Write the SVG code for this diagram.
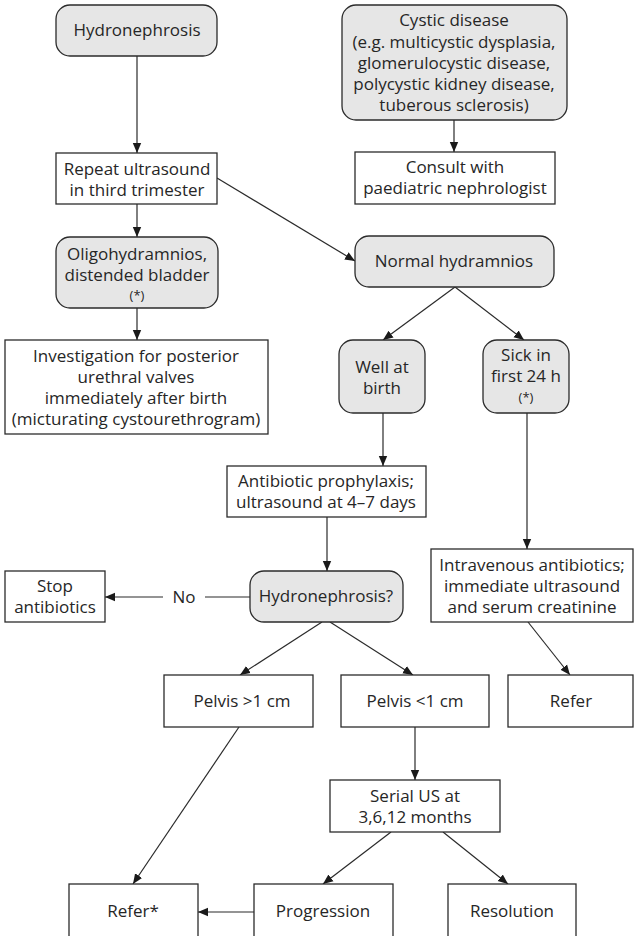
<svg xmlns="http://www.w3.org/2000/svg" width="635" height="936" viewBox="0 0 635 936">
  <style>
    .box { fill: #ffffff; stroke: #2b2b2b; stroke-width: 1.3; }
    .rnd { fill: #e6e6e6; stroke: #2b2b2b; stroke-width: 1.3; }
    text { font-family: "Open Sans", "Liberation Sans", sans-serif; font-size: 17px; fill: #262626; text-anchor: middle; }
    .small { font-size: 13px; }
    .edge { fill: none; stroke: #2b2b2b; stroke-width: 1.2; }
  </style>
  <defs>
    <marker id="arrow" viewBox="0 0 10 10" refX="10" refY="5" markerWidth="10" markerHeight="10" markerUnits="userSpaceOnUse" orient="auto">
      <path d="M0,0.8 L10,5 L0,9.2 z" fill="#1a1a1a"/>
    </marker>
  </defs>

  <rect width="635" height="936" fill="#ffffff"/>

  <!-- connectors -->
  <g id="connectors">
    <line class="edge" x1="137" y1="56" x2="137" y2="153" marker-end="url(#arrow)"/>
    <line class="edge" x1="137" y1="204" x2="137" y2="237" marker-end="url(#arrow)"/>
    <line class="edge" x1="137" y1="308" x2="137" y2="340" marker-end="url(#arrow)"/>
    <line class="edge" x1="217" y1="178" x2="355" y2="261" marker-end="url(#arrow)"/>
    <line class="edge" x1="454" y1="120" x2="454" y2="152" marker-end="url(#arrow)"/>
    <line class="edge" x1="455" y1="287" x2="383" y2="340" marker-end="url(#arrow)"/>
    <line class="edge" x1="455" y1="287" x2="524" y2="340" marker-end="url(#arrow)"/>
    <line class="edge" x1="383" y1="413" x2="383" y2="466" marker-end="url(#arrow)"/>
    <line class="edge" x1="527" y1="413" x2="527" y2="549" marker-end="url(#arrow)"/>
    <line class="edge" x1="327" y1="517" x2="327" y2="571" marker-end="url(#arrow)"/>
    <line class="edge" x1="250" y1="597" x2="205" y2="597"/>
    <line class="edge" x1="163" y1="597" x2="105" y2="597" marker-end="url(#arrow)"/>
    <text x="184" y="603">No</text>
    <line class="edge" x1="322" y1="622" x2="240" y2="675" marker-end="url(#arrow)"/>
    <line class="edge" x1="330" y1="622" x2="413" y2="675" marker-end="url(#arrow)"/>
    <line class="edge" x1="528" y1="622" x2="570" y2="675" marker-end="url(#arrow)"/>
    <line class="edge" x1="415" y1="727" x2="415" y2="780" marker-end="url(#arrow)"/>
    <line class="edge" x1="239" y1="727" x2="133" y2="884" marker-end="url(#arrow)"/>
    <line class="edge" x1="391" y1="832" x2="323" y2="884" marker-end="url(#arrow)"/>
    <line class="edge" x1="443" y1="832" x2="508" y2="884" marker-end="url(#arrow)"/>
    <line class="edge" x1="254" y1="912" x2="198" y2="912" marker-end="url(#arrow)"/>
  </g>

  <!-- nodes -->
  <g id="hydronephrosis">
    <rect class="rnd" x="56" y="5" width="161" height="51" rx="14"/>
    <text x="137" y="36">Hydronephrosis</text>
  </g>
  <g id="repeat-ultrasound">
    <rect class="box" x="56" y="153" width="161" height="51"/>
    <text x="137" y="175">Repeat ultrasound</text>
    <text x="137" y="196">in third trimester</text>
  </g>
  <g id="oligohydramnios">
    <rect class="rnd" x="56" y="237" width="162" height="71" rx="14"/>
    <text x="137" y="260">Oligohydramnios,</text>
    <text x="137" y="281">distended bladder</text>
    <text class="small" x="137" y="300">(*)</text>
  </g>
  <g id="investigation">
    <rect class="box" x="5" y="340" width="263" height="94"/>
    <text x="136" y="362">Investigation for posterior</text>
    <text x="136" y="383">urethral valves</text>
    <text x="136" y="404">immediately after birth</text>
    <text x="136" y="425">(micturating cystourethrogram)</text>
  </g>
  <g id="cystic-disease">
    <rect class="rnd" x="342" y="5" width="225" height="115" rx="14"/>
    <text x="454" y="26">Cystic disease</text>
    <text x="454" y="47.5">(e.g. multicystic dysplasia,</text>
    <text x="454" y="68.5">glomerulocystic disease,</text>
    <text x="454" y="89.5">polycystic kidney disease,</text>
    <text x="454" y="110.5">tuberous sclerosis)</text>
  </g>
  <g id="consult">
    <rect class="box" x="355" y="152" width="200" height="52"/>
    <text x="455" y="173">Consult with</text>
    <text x="455" y="194">paediatric nephrologist</text>
  </g>
  <g id="normal-hydramnios">
    <rect class="rnd" x="355" y="236" width="199" height="51" rx="14"/>
    <text x="454" y="267">Normal hydramnios</text>
  </g>
  <g id="well-at-birth">
    <rect class="rnd" x="339" y="340" width="86" height="73" rx="14"/>
    <text x="382" y="373">Well at</text>
    <text x="382" y="394">birth</text>
  </g>
  <g id="sick-first-24h">
    <rect class="rnd" x="483" y="340" width="86" height="73" rx="14"/>
    <text x="526" y="361">Sick in</text>
    <text x="526" y="382">first 24 h</text>
    <text class="small" x="526" y="402">(*)</text>
  </g>
  <g id="antibiotic-prophylaxis">
    <rect class="box" x="227" y="466" width="199" height="51"/>
    <text x="326" y="487">Antibiotic prophylaxis;</text>
    <text x="326" y="508">ultrasound at 4–7 days</text>
  </g>
  <g id="hydronephrosis-check">
    <rect class="rnd" x="250" y="571" width="153" height="51" rx="14"/>
    <text x="326" y="602">Hydronephrosis?</text>
  </g>
  <g id="stop-antibiotics">
    <rect class="box" x="5" y="571" width="100" height="51"/>
    <text x="55" y="592">Stop</text>
    <text x="55" y="613">antibiotics</text>
  </g>
  <g id="intravenous">
    <rect class="box" x="431" y="549" width="202" height="73"/>
    <text x="532" y="571">Intravenous antibiotics;</text>
    <text x="532" y="592">immediate ultrasound</text>
    <text x="532" y="613">and serum creatinine</text>
  </g>
  <g id="pelvis-gt-1">
    <rect class="box" x="164" y="675" width="149" height="52"/>
    <text x="242" y="707">Pelvis &gt;1 cm</text>
  </g>
  <g id="pelvis-lt-1">
    <rect class="box" x="341" y="675" width="148" height="52"/>
    <text x="415" y="707">Pelvis &lt;1 cm</text>
  </g>
  <g id="refer">
    <rect class="box" x="508" y="675" width="125" height="52"/>
    <text x="571" y="707">Refer</text>
  </g>
  <g id="serial-us">
    <rect class="box" x="330" y="780" width="170" height="52"/>
    <text x="415" y="802">Serial US at</text>
    <text x="415" y="823">3,6,12 months</text>
  </g>
  <g id="refer-star">
    <rect class="box" x="69" y="884" width="129" height="55"/>
    <text x="133" y="917">Refer*</text>
  </g>
  <g id="progression">
    <rect class="box" x="254" y="884" width="139" height="55"/>
    <text x="323" y="917">Progression</text>
  </g>
  <g id="resolution">
    <rect class="box" x="448" y="884" width="128" height="55"/>
    <text x="512" y="917">Resolution</text>
  </g>
</svg>
